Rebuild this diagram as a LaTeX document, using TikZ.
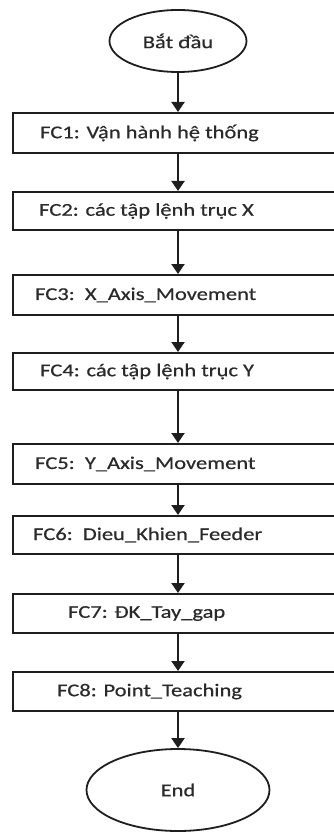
\documentclass[tikz,border=0pt]{standalone}
\usepackage{fontspec}
\setmainfont{Carlito}[FakeStretch=1.25, FakeBold=0.6]
\usetikzlibrary{shapes.geometric,arrows.meta}
\definecolor{ink}{HTML}{1E1E1E}
\definecolor{txt}{HTML}{2A2A2A}
\tikzset{
  fcbox/.style={draw=ink, line width=2pt, rectangle, minimum width=332pt, minimum height=#1, inner sep=0pt},
  fcbox/.default=39pt,
  term/.style={draw=ink, line width=1.8pt, ellipse, inner sep=0pt, font=\fontsize{18}{20}\selectfont, text=txt},
  lbl/.style={anchor=west, inner sep=0pt, font=\fontsize{18}{20}\selectfont, text=txt},
  flow/.style={draw=ink, line width=2pt, -{Triangle[length=10pt,width=13pt]}}
}
\begin{document}
\begin{tikzpicture}[x=1pt,y=-1pt]
\useasboundingbox (0,0) rectangle (334,834);
\clip (0,0) rectangle (334,834);
\node[term, minimum width=137pt, minimum height=62pt] (start) at (178,41) {Bắt đầu};
\node[fcbox=40pt] (fc1) at (179,133) {};
\node[fcbox=38pt] (fc2) at (179,211) {};
\node[fcbox=40pt] (fc3) at (179,295) {};
\node[fcbox=37pt] (fc4) at (179,371.5) {};
\node[fcbox=40pt] (fc5) at (179,464) {};
\node[fcbox=38pt] (fc6) at (179,535) {};
\node[fcbox=39pt] (fc7) at (179,613.5) {};
\node[fcbox=39pt] (fc8) at (179,691.5) {};
\node[term, minimum width=183pt, minimum height=82pt] (end) at (178,790) {End};
\node[lbl] (l1) at (40,133) {FC1: Vận hành hệ thống};
\node[lbl] (l2) at (39,211) {FC2: các tập lệnh trục X};
\node[lbl] (l3) at (35,295) {FC3:\ \ X\_Axis\_Movement};
\node[lbl] (l4) at (40,371.5) {FC4: các tập lệnh trục Y};
\node[lbl] (l5) at (35,464) {FC5:\ \ Y\_Axis\_Movement};
\node[lbl] (l6) at (33,535) {FC6:\ \ Dieu\_Khien\_Feeder};
\node[lbl] (l7) at (68,613.5) {FC7: ĐK\_Tay\_gap};
\node[lbl] (l8) at (57,691.5) {FC8: Point\_Teaching};
\draw[flow] (start.south) -- (start.south |- fc1.north);
\draw[flow] (start.south |- fc1.south) -- (start.south |- fc2.north);
\draw[flow] (start.south |- fc2.south) -- (start.south |- fc3.north);
\draw[flow] (start.south |- fc3.south) -- (start.south |- fc4.north);
\draw[flow] (start.south |- fc4.south) -- (start.south |- fc5.north);
\draw[flow] (start.south |- fc5.south) -- (start.south |- fc6.north);
\draw[flow] (start.south |- fc6.south) -- (start.south |- fc7.north);
\draw[flow] (start.south |- fc7.south) -- (start.south |- fc8.north);
\draw[flow] (start.south |- fc8.south) -- (end.north);
\end{tikzpicture}
\end{document}
